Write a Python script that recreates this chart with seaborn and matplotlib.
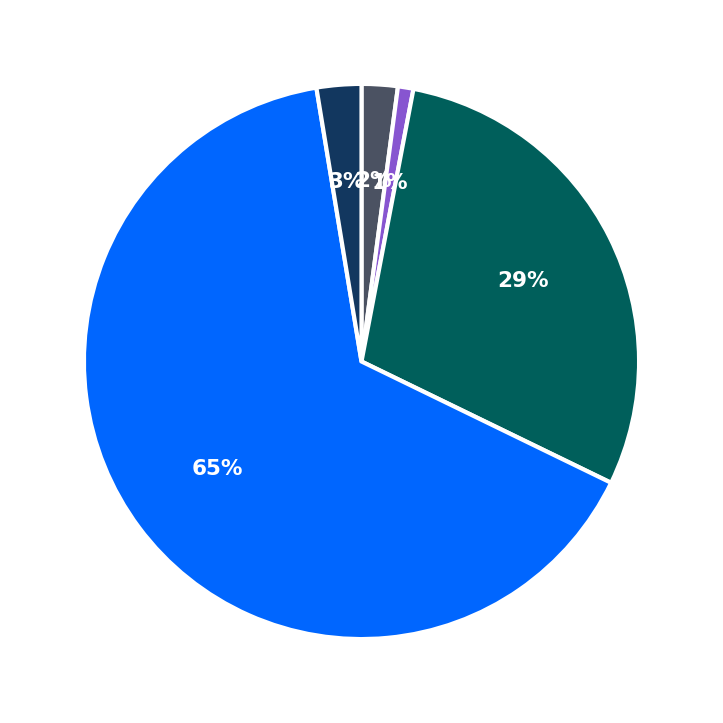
import matplotlib
matplotlib.use('Agg')
import matplotlib.pyplot as plt
import seaborn as sns

# Slice data (clockwise from 12 o'clock)
labels = ['Gray', 'Purple', 'Teal', 'Blue', 'Navy']
values = [2.1, 0.9, 29.2, 65.2, 2.6]
colors = ['#4b5262', '#8755d0', '#005f5b', '#0066ff', '#12375f']

sns.set_theme(style='white')

fig = plt.figure(figsize=(7.23, 7.23), dpi=100)
ax = fig.add_axes([0.0201, 0.0201, 0.9598, 0.9598])

wedges, texts, autotexts = ax.pie(
    values, colors=colors, startangle=90, counterclock=False,
    autopct='%.0f%%', pctdistance=0.65,
    wedgeprops={'edgecolor': 'white', 'linewidth': 3},
    textprops={'color': 'white', 'fontsize': 15.5, 'fontweight': 'bold'},
)
ax.set_aspect('equal')

fig.savefig('out.png', dpi=100)
